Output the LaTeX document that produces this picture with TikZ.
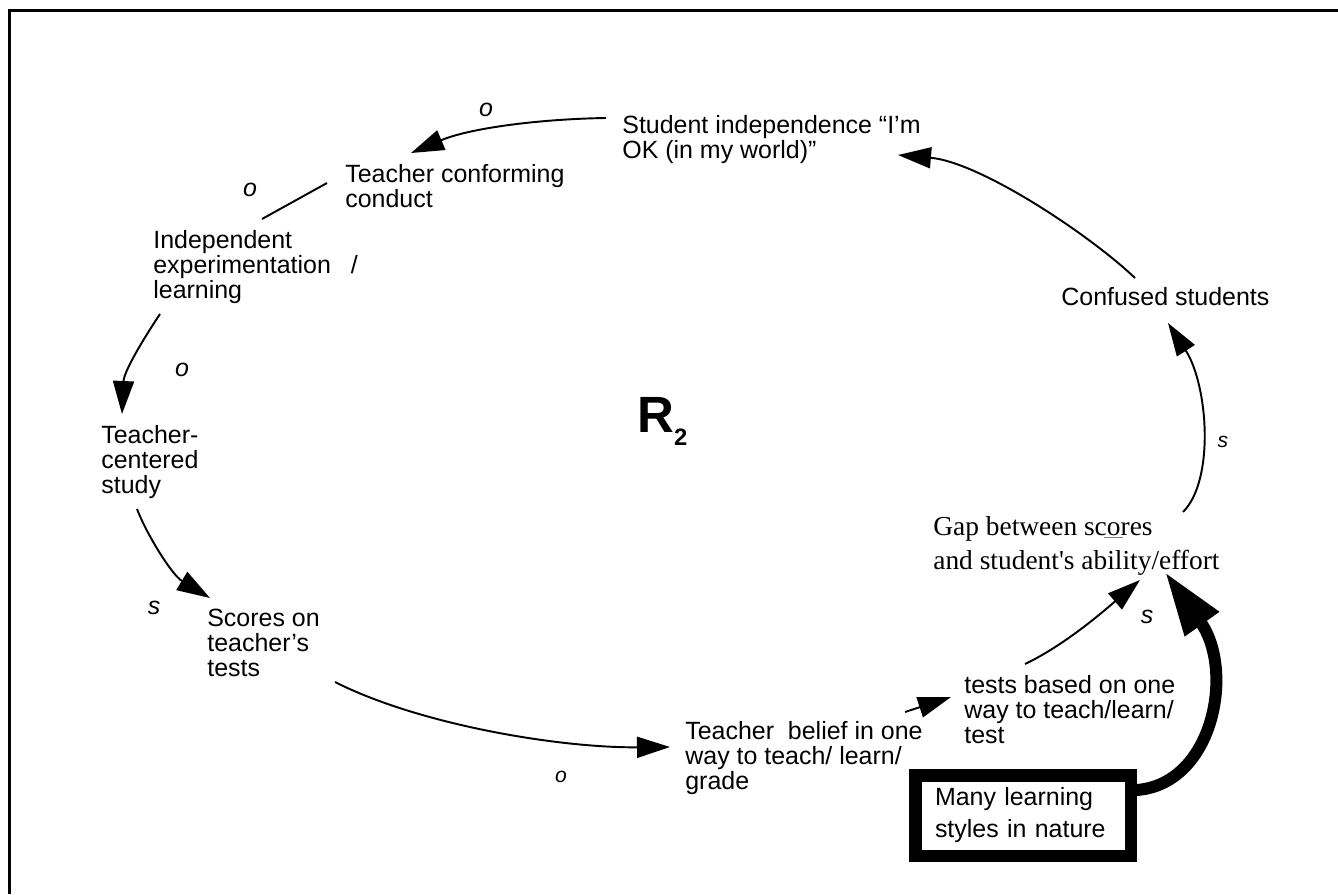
\documentclass[tikz,border=0pt]{standalone}
\usepackage{fontspec}
\setmainfont{Liberation Sans}
\newfontfamily\gapfont{Liberation Serif}[Ligatures=TeXOff]
\usepackage{tikz}
\usetikzlibrary{arrows.meta}

\begin{document}
\begin{tikzpicture}[x=0.2mm,y=-0.2mm,>={Triangle[length=6.6mm,width=4.2mm]},
  var/.style={anchor=north west,inner sep=0pt,align=left,font=\fontsize{14.2pt}{14.2pt}\selectfont},
  sgn/.style={inner sep=0pt,font=\fontsize{14.2pt}{14.2pt}\selectfont\itshape},
  sgnsmall/.style={inner sep=0pt,font=\fontsize{12pt}{12pt}\selectfont\itshape},
  many/.style={draw,line width=2.5mm,outer sep=0pt,anchor=north west,inner xsep=3.95mm,inner ysep=0pt,
               text width=35.2mm,minimum height=16.1mm,align=left,font=\fontsize{14.2pt}{18.2pt}\selectfont},
  link/.style={->,line width=1.1pt},
  boldlink/.style={-{Triangle[length=12.8mm,width=7.8mm]},line width=2.4mm}]
  \useasboundingbox (0,0) rectangle (1338,894);
  \draw[line width=0.6mm] (9,894) -- (9,10) -- (1338,10);

  % variables of the loop
  \node[var] (stud) at (622,115) {Student independence “I’m\\OK (in my world)”};
  \node[var] (tcc) at (345,164) {Teacher conforming\\conduct};
  \node[var] (indep) at (153,230) {Independent\\experimentation\hspace{4mm}/\\learning};
  \node[var] (tcs) at (101,425) {Teacher-\\centered\\study};
  \node[var] (scores) at (207,609) {Scores on\\teacher’s\\tests};
  \node[var] (belief) at (685,721) {Teacher\ \ belief in one\\way to teach/ learn/\\grade};
  \node[var] (tests) at (964,675) {tests based on one\\way to teach/learn/\\test};
  \node[var,font=\gapfont\fontsize{15.6pt}{19.4pt}\selectfont] (gap) at (933,516)
       {Gap between scores\\and student's ability/effort};
  \node[var] (conf) at (1061,287) {Confused students};
  \node[many] (many) at (915.25,775.25) {Many learning\\styles in nature};
  \node[anchor=base west,inner sep=0pt,font=\fontsize{29pt}{29pt}\selectfont\bfseries] (r2) at (637,432)
       {R\raisebox{-2.6mm}{\fontsize{13.5pt}{13.5pt}\selectfont 2}};

  % links
  \draw[link] ([shift={(-16,3)}]stud.north west) .. controls (540,119) and (470,128) .. ([shift={(66,-11)}]tcc.north west);
  \draw[line width=1.1pt] ([shift={(-18,19)}]tcc.north west) -- ([shift={(109,-11)}]indep.north west);
  \draw[link] ([shift={(7,84)}]indep.north west) .. controls (148,332) and (124,370) .. ([shift={(21,-11)}]tcs.north west);
  \draw[link] ([shift={(36,84)}]tcs.north west) .. controls (147,535) and (172,575) .. ([shift={(3,-11)}]scores.north west);
  \draw[link] ([shift={(128,73)}]scores.north west) .. controls (420,725) and (560,748) .. ([shift={(-15,26)}]belief.north west);
  \draw[link] ([shift={(220,-9)}]belief.north west) -- ([shift={(-13,22)}]tests.north west);
  \draw[link] ([shift={(61,-11)}]tests.north west) .. controls (1065,645) and (1105,610) .. ([shift={(207,64)}]gap.north west);
  \draw[link] ([shift={(250,-4)}]gap.north west) .. controls (1215,480) and (1208,385) .. ([shift={(107,36)}]conf.north west);
  \draw[link] ([shift={(74,-9)}]conf.north west) .. controls (1090,235) and (980,162) .. ([shift={(276,40)}]stud.north west);
  \draw[boldlink] ([shift={(0,15)}]many.north east) .. controls (1212,790) and (1236,672) .. ([shift={(232,56)}]gap.north west);
  \draw[gray,line width=0.3pt] ([shift={(171,21)}]gap.north west) -- ++(19,0);

  % polarities
  \node[sgn] (o1) at (486,110) {o};
  \node[sgn] (o2) at (250,190) {o};
  \node[sgn] (o3) at (182,370) {o};
  \node[sgn] (s4) at (154,608) {s};
  \node[sgnsmall] (o5) at (561,777) {o};
  \node[sgn] (s7) at (1147,617) {s};
  \node[sgnsmall] (s8) at (1223,442) {s};
\end{tikzpicture}
\end{document}
